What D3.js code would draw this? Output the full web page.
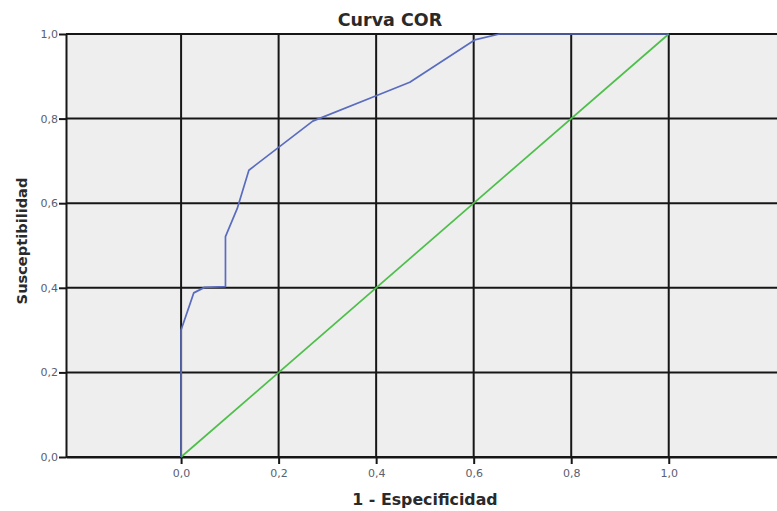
<!DOCTYPE html>
<html>
<head>
<meta charset="utf-8">
<script src="https://cdn.jsdelivr.net/npm/d3@7"></script>
<style>
  html, body { margin: 0; padding: 0; background: #ffffff; }
  svg { display: block; }
</style>
</head>
<body>
<div id="chart"></div>
<script>
// ---- Data ----
const rocX = [0, 0, 0.026, 0.048, 0.091, 0.091, 0.115, 0.139, 0.270, 0.400, 0.469, 0.602, 0.653, 1.0];
const rocY = [0, 0.30, 0.388, 0.401, 0.403, 0.521, 0.587, 0.678, 0.794, 0.854, 0.886, 0.986, 1.0, 1.0];
const refX = [0, 1];
const refY = [0, 1];
const xTicks = [0, 0.2, 0.4, 0.6, 0.8, 1.0];
const yTicks = [0, 0.2, 0.4, 0.6, 0.8, 1.0];
const title = "Curva COR";
const xTitle = "1 - Especificidad";
const yTitle = "Susceptibilidad";

// ---- Layout ----
const W = 777, H = 511;
const plot = { left: 66, right: 777, top: 34, bottom: 457 };

const x = d3.scaleLinear().domain([-0.236, 1.222]).range([plot.left, plot.right]);
const y = d3.scaleLinear().domain([0, 1]).range([plot.bottom, plot.top]);
const fmt = d => d3.format(".1f")(d).replace(".", ",");

const svg = d3.select("#chart").append("svg").attr("width", W).attr("height", H);

// background
svg.append("rect")
  .attr("x", plot.left).attr("y", plot.top)
  .attr("width", plot.right - plot.left).attr("height", plot.bottom - plot.top)
  .attr("fill", "#eeeeee");

// grid lines
const grid = svg.append("g").attr("stroke", "#161616").attr("stroke-width", 2);
grid.selectAll("line.gx").data(xTicks).join("line")
  .attr("x1", d => x(d)).attr("x2", d => x(d))
  .attr("y1", plot.top).attr("y2", plot.bottom);
grid.selectAll("line.gy").data(yTicks).join("line")
  .attr("x1", plot.left).attr("x2", plot.right)
  .attr("y1", d => y(d)).attr("y2", d => y(d));

// axes
const xAxis = d3.axisBottom(x).tickValues(xTicks).tickFormat(fmt).tickSizeInner(7).tickSizeOuter(0).tickPadding(5);
const yAxis = d3.axisLeft(y).tickValues(yTicks).tickFormat(fmt).tickSizeInner(7).tickSizeOuter(0).tickPadding(1);

const gx = svg.append("g").attr("transform", `translate(0,${plot.bottom})`).call(xAxis);
const gy = svg.append("g").attr("transform", `translate(${plot.left},0)`).call(yAxis);
[gx, gy].forEach(g => {
  g.select(".domain").attr("stroke", "#161616").attr("stroke-width", 2);
  g.selectAll(".tick line").attr("stroke", "#161616").attr("stroke-width", 2);
  g.selectAll(".tick text")
    .attr("font-family", "DejaVu Sans, sans-serif")
    .attr("font-size", 11)
    .attr("fill", "#5a6070");
});

// reference diagonal
const refData = refX.map((v, i) => [v, refY[i]]);
svg.append("path")
  .datum(refData)
  .attr("fill", "none")
  .attr("stroke", "#4dbf4a")
  .attr("stroke-width", 1.7)
  .attr("d", d3.line().x(d => x(d[0])).y(d => y(d[1])));

// ROC curve
const rocData = rocX.map((v, i) => [v, rocY[i]]);
svg.append("path")
  .datum(rocData)
  .attr("fill", "none")
  .attr("stroke", "#5a6cc0")
  .attr("stroke-width", 1.7)
  .attr("stroke-linejoin", "round")
  .attr("d", d3.line().x(d => x(d[0])).y(d => y(d[1])));

// titles
svg.append("text")
  .attr("x", 390).attr("y", 26)
  .attr("text-anchor", "middle")
  .attr("font-family", "DejaVu Sans, sans-serif")
  .attr("font-weight", "bold")
  .attr("font-size", 17.5)
  .attr("fill", "#2a2a2a")
  .text(title);

svg.append("text")
  .attr("x", 425).attr("y", 505)
  .attr("text-anchor", "middle")
  .attr("font-family", "DejaVu Sans, sans-serif")
  .attr("font-weight", "bold")
  .attr("font-size", 15.8)
  .attr("fill", "#2a2a2a")
  .text(xTitle);

svg.append("text")
  .attr("transform", "translate(27,241) rotate(-90)")
  .attr("text-anchor", "middle")
  .attr("font-family", "DejaVu Sans, sans-serif")
  .attr("font-weight", "bold")
  .attr("font-size", 14.6)
  .attr("fill", "#2a2a2a")
  .text(yTitle);
</script>
</body>
</html>
